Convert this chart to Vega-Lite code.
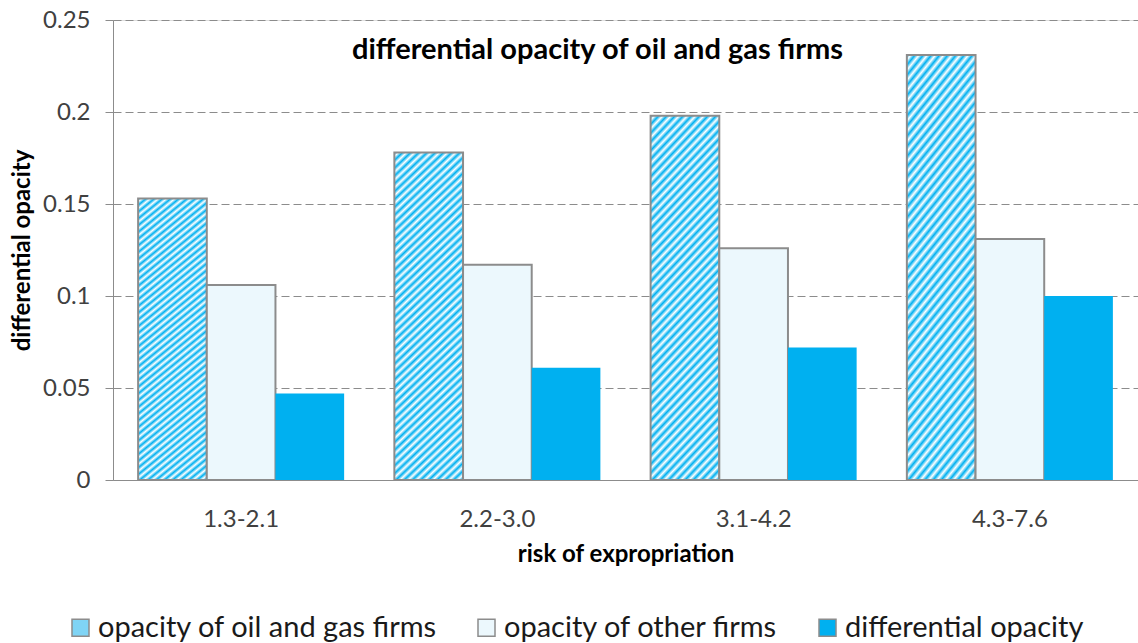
{
  "$schema": "https://vega.github.io/schema/vega-lite/v6.json",
  "width": 1025,
  "height": 460,
  "autosize": {"type": "none"},
  "padding": {"left": 113, "top": 20, "right": 0, "bottom": 163},
  "background": "white",
  "title": {
    "text": "differential opacity of oil and gas firms",
    "anchor": "middle",
    "frame": "group",
    "dx": -28,
    "offset": -57,
    "font": "Lato",
    "fontSize": 29,
    "fontWeight": "bold",
    "color": "#000000"
  },
  "data": {
    "values": [
      {"risk": "1.3-2.1", "series": "opacity of oil and gas firms", "value": 0.153},
      {"risk": "1.3-2.1", "series": "opacity of other firms", "value": 0.106},
      {"risk": "1.3-2.1", "series": "differential opacity", "value": 0.047},
      {"risk": "2.2-3.0", "series": "opacity of oil and gas firms", "value": 0.178},
      {"risk": "2.2-3.0", "series": "opacity of other firms", "value": 0.117},
      {"risk": "2.2-3.0", "series": "differential opacity", "value": 0.061},
      {"risk": "3.1-4.2", "series": "opacity of oil and gas firms", "value": 0.198},
      {"risk": "3.1-4.2", "series": "opacity of other firms", "value": 0.126},
      {"risk": "3.1-4.2", "series": "differential opacity", "value": 0.072},
      {"risk": "4.3-7.6", "series": "opacity of oil and gas firms", "value": 0.231},
      {"risk": "4.3-7.6", "series": "opacity of other firms", "value": 0.131},
      {"risk": "4.3-7.6", "series": "differential opacity", "value": 0.100}
    ]
  },
  "mark": {"type": "bar", "stroke": "#8c8c8c"},
  "encoding": {
    "x": {
      "field": "risk",
      "type": "nominal",
      "sort": null,
      "scale": {"paddingInner": 0.196, "paddingOuter": 0.098},
      "axis": {
        "title": "risk of expropriation",
        "titleFont": "Lato",
        "titleFontSize": 24,
        "titleFontWeight": "bold",
        "titleColor": "#000000",
        "titlePadding": 11,
        "labelFont": "Lato",
        "labelFontSize": 24,
        "labelColor": "#404040",
        "labelPadding": 27,
        "labelAngle": 0,
        "ticks": false,
        "tickSize": 0,
        "domainColor": "#8c8c8c",
        "domainWidth": 1,
        "grid": false
      }
    },
    "xOffset": {
      "field": "series",
      "type": "nominal",
      "sort": ["opacity of oil and gas firms", "opacity of other firms", "differential opacity"],
      "scale": {"paddingInner": 0, "paddingOuter": 0}
    },
    "y": {
      "field": "value",
      "type": "quantitative",
      "scale": {"domain": [0, 0.25], "nice": false},
      "axis": {
        "title": "differential opacity",
        "titleFont": "Lato",
        "titleFontSize": 24,
        "titleFontWeight": "bold",
        "titleColor": "#000000",
        "titlePadding": 8,
        "values": [0, 0.05, 0.1, 0.15, 0.2, 0.25],
        "format": "~g",
        "labelFont": "Lato",
        "labelFontSize": 24,
        "labelColor": "#404040",
        "labelPadding": 15,
        "tickSize": 8,
        "tickColor": "#8c8c8c",
        "domainColor": "#8c8c8c",
        "domainWidth": 1,
        "grid": true,
        "gridColor": "#8c8c8c",
        "gridDash": [8, 4],
        "gridWidth": 1
      }
    },
    "fill": {
      "condition": {
        "test": "datum.series === 'opacity of oil and gas firms'",
        "value": {
          "gradient": "linear",
          "x1": 0, "y1": 0, "x2": 0.23, "y2": 1.15,
          "stops": [
            {"offset": 0.00, "color": "#00b0f0"}, {"offset": 0.01, "color": "#ffffff"},
            {"offset": 0.02, "color": "#00b0f0"}, {"offset": 0.03, "color": "#ffffff"},
            {"offset": 0.04, "color": "#00b0f0"}, {"offset": 0.05, "color": "#ffffff"},
            {"offset": 0.06, "color": "#00b0f0"}, {"offset": 0.07, "color": "#ffffff"},
            {"offset": 0.08, "color": "#00b0f0"}, {"offset": 0.09, "color": "#ffffff"},
            {"offset": 0.10, "color": "#00b0f0"}, {"offset": 0.11, "color": "#ffffff"},
            {"offset": 0.12, "color": "#00b0f0"}, {"offset": 0.13, "color": "#ffffff"},
            {"offset": 0.14, "color": "#00b0f0"}, {"offset": 0.15, "color": "#ffffff"},
            {"offset": 0.16, "color": "#00b0f0"}, {"offset": 0.17, "color": "#ffffff"},
            {"offset": 0.18, "color": "#00b0f0"}, {"offset": 0.19, "color": "#ffffff"},
            {"offset": 0.20, "color": "#00b0f0"}, {"offset": 0.21, "color": "#ffffff"},
            {"offset": 0.22, "color": "#00b0f0"}, {"offset": 0.23, "color": "#ffffff"},
            {"offset": 0.24, "color": "#00b0f0"}, {"offset": 0.25, "color": "#ffffff"},
            {"offset": 0.26, "color": "#00b0f0"}, {"offset": 0.27, "color": "#ffffff"},
            {"offset": 0.28, "color": "#00b0f0"}, {"offset": 0.29, "color": "#ffffff"},
            {"offset": 0.30, "color": "#00b0f0"}, {"offset": 0.31, "color": "#ffffff"},
            {"offset": 0.32, "color": "#00b0f0"}, {"offset": 0.33, "color": "#ffffff"},
            {"offset": 0.34, "color": "#00b0f0"}, {"offset": 0.35, "color": "#ffffff"},
            {"offset": 0.36, "color": "#00b0f0"}, {"offset": 0.37, "color": "#ffffff"},
            {"offset": 0.38, "color": "#00b0f0"}, {"offset": 0.39, "color": "#ffffff"},
            {"offset": 0.40, "color": "#00b0f0"}, {"offset": 0.41, "color": "#ffffff"},
            {"offset": 0.42, "color": "#00b0f0"}, {"offset": 0.43, "color": "#ffffff"},
            {"offset": 0.44, "color": "#00b0f0"}, {"offset": 0.45, "color": "#ffffff"},
            {"offset": 0.46, "color": "#00b0f0"}, {"offset": 0.47, "color": "#ffffff"},
            {"offset": 0.48, "color": "#00b0f0"}, {"offset": 0.49, "color": "#ffffff"},
            {"offset": 0.50, "color": "#00b0f0"}, {"offset": 0.51, "color": "#ffffff"},
            {"offset": 0.52, "color": "#00b0f0"}, {"offset": 0.53, "color": "#ffffff"},
            {"offset": 0.54, "color": "#00b0f0"}, {"offset": 0.55, "color": "#ffffff"},
            {"offset": 0.56, "color": "#00b0f0"}, {"offset": 0.57, "color": "#ffffff"},
            {"offset": 0.58, "color": "#00b0f0"}, {"offset": 0.59, "color": "#ffffff"},
            {"offset": 0.60, "color": "#00b0f0"}, {"offset": 0.61, "color": "#ffffff"},
            {"offset": 0.62, "color": "#00b0f0"}, {"offset": 0.63, "color": "#ffffff"},
            {"offset": 0.64, "color": "#00b0f0"}, {"offset": 0.65, "color": "#ffffff"},
            {"offset": 0.66, "color": "#00b0f0"}, {"offset": 0.67, "color": "#ffffff"},
            {"offset": 0.68, "color": "#00b0f0"}, {"offset": 0.69, "color": "#ffffff"},
            {"offset": 0.70, "color": "#00b0f0"}, {"offset": 0.71, "color": "#ffffff"},
            {"offset": 0.72, "color": "#00b0f0"}, {"offset": 0.73, "color": "#ffffff"},
            {"offset": 0.74, "color": "#00b0f0"}, {"offset": 0.75, "color": "#ffffff"},
            {"offset": 0.76, "color": "#00b0f0"}, {"offset": 0.77, "color": "#ffffff"},
            {"offset": 0.78, "color": "#00b0f0"}, {"offset": 0.79, "color": "#ffffff"},
            {"offset": 0.80, "color": "#00b0f0"}, {"offset": 0.81, "color": "#ffffff"},
            {"offset": 0.82, "color": "#00b0f0"}, {"offset": 0.83, "color": "#ffffff"},
            {"offset": 0.84, "color": "#00b0f0"}, {"offset": 0.85, "color": "#ffffff"},
            {"offset": 0.86, "color": "#00b0f0"}, {"offset": 0.87, "color": "#ffffff"},
            {"offset": 0.88, "color": "#00b0f0"}, {"offset": 0.89, "color": "#ffffff"},
            {"offset": 0.90, "color": "#00b0f0"}, {"offset": 0.91, "color": "#ffffff"},
            {"offset": 0.92, "color": "#00b0f0"}, {"offset": 0.93, "color": "#ffffff"},
            {"offset": 0.94, "color": "#00b0f0"}, {"offset": 0.95, "color": "#ffffff"},
            {"offset": 0.96, "color": "#00b0f0"}, {"offset": 0.97, "color": "#ffffff"},
            {"offset": 0.98, "color": "#00b0f0"}, {"offset": 0.99, "color": "#ffffff"},
            {"offset": 1.00, "color": "#00b0f0"}
          ]
        }
      },
      "field": "series",
      "type": "nominal",
      "scale": {
        "domain": ["opacity of oil and gas firms", "opacity of other firms", "differential opacity"],
        "range": ["#7fd4f5", "#ecf8fd", "#00b0f0"]
      },
      "legend": {
        "orient": "none",
        "legendX": -47,
        "legendY": 593,
        "direction": "horizontal",
        "title": null,
        "padding": 0,
        "symbolType": "square",
        "symbolSize": 289,
        "symbolStrokeColor": "#8c8c8c",
        "symbolStrokeWidth": 1.5,
        "labelFont": "Lato",
        "labelFontSize": 29,
        "labelColor": "#1a1a1a",
        "labelOffset": 3,
        "columnPadding": 34,
        "labelLimit": 500
      }
    },
    "strokeWidth": {
      "condition": {"test": "datum.series === 'differential opacity'", "value": 0},
      "value": 2
    }
  }
}
